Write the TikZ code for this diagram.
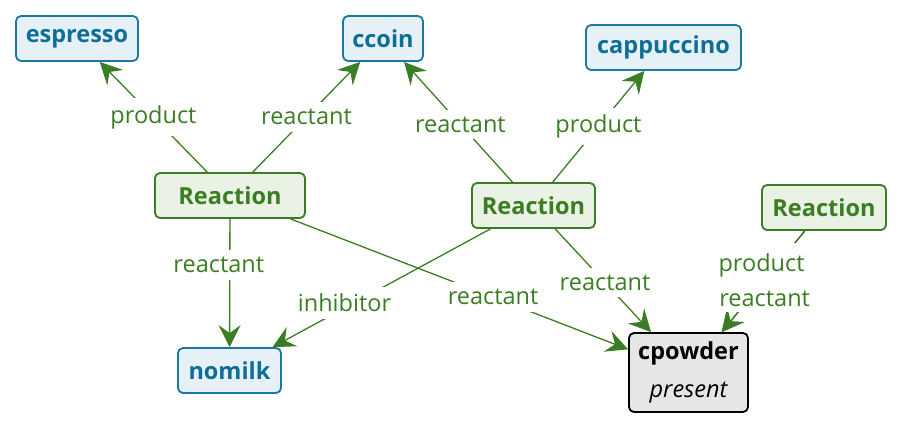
\documentclass[tikz,border=0pt]{standalone}
\usepackage{fontspec}
\setmainfont{Open Sans}
\usetikzlibrary{arrows.meta}
\definecolor{bluetxt}{HTML}{0F6E98}
\definecolor{bluebd}{HTML}{1A78A2}
\definecolor{bluefill}{HTML}{E5F1F7}
\definecolor{grn}{HTML}{3B7D23}
\definecolor{grnfill}{HTML}{EAF2E5}
\definecolor{grayfill}{HTML}{E6E6E6}
\begin{document}
\begin{tikzpicture}[x=1pt,y=-1pt,
  base/.style={rounded corners=5pt, line width=1.8pt, inner sep=0pt, minimum height=45pt,
    font=\fontsize{23.5}{27}\selectfont\bfseries},
  species/.style={base, draw=bluebd, fill=bluefill, text=bluetxt},
  reaction/.style={base, draw=grn, fill=grnfill, text=grn},
  present/.style={base, draw=black, fill=grayfill, text=black, align=center, minimum height=79pt, minimum width=119pt},
  edge/.style={draw=grn, line width=1.3pt, -{Stealth[length=22pt,width=22pt,inset=8pt]}},
  lbl/.style={fill=white, text=grn, inner xsep=2pt, inner ysep=7pt, font=\fontsize{23.5}{27}\selectfont}]
\useasboundingbox (0,0) rectangle (902,429);
\node[species, minimum width=122pt] (espresso) at (77,38.5) {espresso};
\node[species, minimum width=80pt] (ccoin) at (383,38.5) {ccoin};
\node[species, minimum width=155pt] (cappuccino) at (663.5,47.5) {cappuccino};
\node[reaction, minimum width=150pt] (R1) at (230,195.5) {Reaction};
\node[reaction, minimum width=123pt] (R2) at (533.5,205.5) {Reaction};
\node[reaction, minimum width=124pt] (R3) at (824,207.5) {Reaction};
\node[species, minimum width=103pt] (nomilk) at (229.5,370.5) {nomilk};
\node[present] (cpowder) at (688.5,372.5) {cpowder\\[11pt]{\mdseries\itshape present}};

\draw[edge] (R1) -- node[lbl, pos=0.5] {product} (espresso);
\draw[edge] (R1) -- node[lbl, pos=0.5] {reactant} (ccoin);
\draw[edge] (R2) -- node[lbl, pos=0.48] {reactant} (ccoin);
\draw[edge] (R2) -- node[lbl, pos=0.5] {product} (cappuccino);
\draw[edge] (R1) -- node[lbl, pos=0.36, xshift=-11pt] {reactant} (nomilk);
\draw[edge] (R2) -- node[lbl, pos=0.67, yshift=5pt] {inhibitor} (nomilk);
\draw[edge] (R1) -- node[lbl, pos=0.6] {reactant} (cpowder);
\draw[edge] (R2) -- node[lbl, pos=0.52] {reactant} (cpowder);
\draw[edge] (R3) -- (cpowder);
\draw[edge] (R3) -- (cpowder);
\path (R3) -- node[lbl, inner ysep=11pt, pos=0.34, xshift=-15pt] {product}
              node[lbl, inner ysep=5pt, pos=0.675, xshift=16pt] {reactant} (cpowder);
\end{tikzpicture}
\end{document}
